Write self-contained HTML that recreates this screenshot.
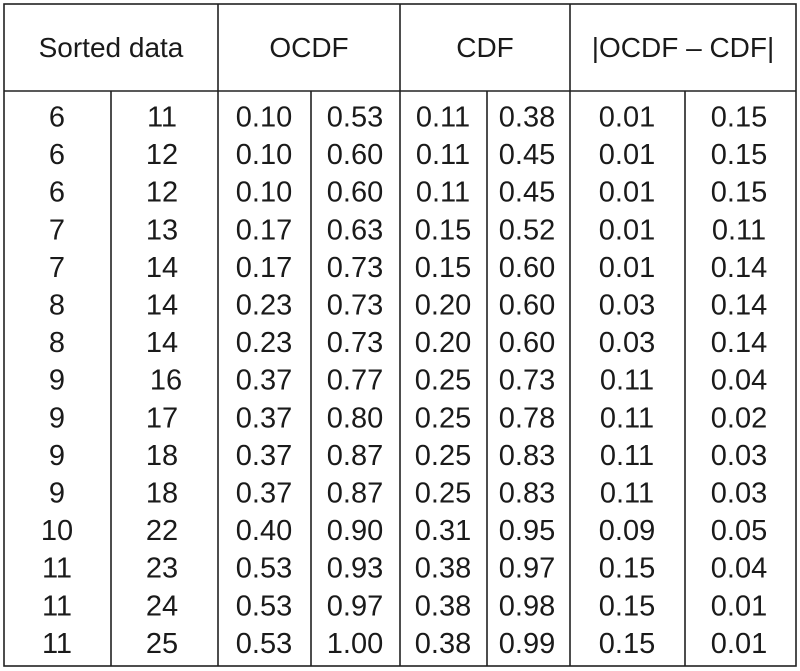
<!DOCTYPE html>
<html><head><meta charset="utf-8"><style>
html,body{margin:0;padding:0;background:#fff;}
svg{display:block;}
text{font-family:"Liberation Sans",sans-serif;fill:#1a1a1a;text-anchor:middle;}
</style></head><body>
<svg width="800" height="671" viewBox="0 0 800 671" xmlns="http://www.w3.org/2000/svg">
<g stroke="#222" stroke-width="1.6" fill="none">
<rect x="4" y="4" width="792" height="662"/>
<line x1="4" y1="91" x2="796" y2="91"/>
<line x1="218" y1="4" x2="218" y2="666"/>
<line x1="400" y1="4" x2="400" y2="666"/>
<line x1="570" y1="4" x2="570" y2="666"/>
<line x1="111" y1="91" x2="111" y2="666"/>
<line x1="311" y1="91" x2="311" y2="666"/>
<line x1="487" y1="91" x2="487" y2="666"/>
<line x1="685" y1="91" x2="685" y2="666"/>
</g>
<g font-size="28">
<text x="111" y="57">Sorted data</text>
<text x="309" y="57">OCDF</text>
<text x="485" y="57">CDF</text>
<text x="683" y="57">|OCDF – CDF|</text>
</g>
<g font-size="29">
<text y="126.5"><tspan x="57">6</tspan><tspan x="162">11</tspan><tspan x="264">0.10</tspan><tspan x="355">0.53</tspan><tspan x="443">0.11</tspan><tspan x="527">0.38</tspan><tspan x="627">0.01</tspan><tspan x="739">0.15</tspan></text>
<text y="164.1"><tspan x="57">6</tspan><tspan x="162">12</tspan><tspan x="264">0.10</tspan><tspan x="355">0.60</tspan><tspan x="443">0.11</tspan><tspan x="527">0.45</tspan><tspan x="627">0.01</tspan><tspan x="739">0.15</tspan></text>
<text y="201.7"><tspan x="57">6</tspan><tspan x="162">12</tspan><tspan x="264">0.10</tspan><tspan x="355">0.60</tspan><tspan x="443">0.11</tspan><tspan x="527">0.45</tspan><tspan x="627">0.01</tspan><tspan x="739">0.15</tspan></text>
<text y="239.3"><tspan x="57">7</tspan><tspan x="162">13</tspan><tspan x="264">0.17</tspan><tspan x="355">0.63</tspan><tspan x="443">0.15</tspan><tspan x="527">0.52</tspan><tspan x="627">0.01</tspan><tspan x="739">0.11</tspan></text>
<text y="276.9"><tspan x="57">7</tspan><tspan x="162">14</tspan><tspan x="264">0.17</tspan><tspan x="355">0.73</tspan><tspan x="443">0.15</tspan><tspan x="527">0.60</tspan><tspan x="627">0.01</tspan><tspan x="739">0.14</tspan></text>
<text y="314.5"><tspan x="57">8</tspan><tspan x="162">14</tspan><tspan x="264">0.23</tspan><tspan x="355">0.73</tspan><tspan x="443">0.20</tspan><tspan x="527">0.60</tspan><tspan x="627">0.03</tspan><tspan x="739">0.14</tspan></text>
<text y="352.1"><tspan x="57">8</tspan><tspan x="162">14</tspan><tspan x="264">0.23</tspan><tspan x="355">0.73</tspan><tspan x="443">0.20</tspan><tspan x="527">0.60</tspan><tspan x="627">0.03</tspan><tspan x="739">0.14</tspan></text>
<text y="389.7"><tspan x="57">9</tspan><tspan x="166">16</tspan><tspan x="264">0.37</tspan><tspan x="355">0.77</tspan><tspan x="443">0.25</tspan><tspan x="527">0.73</tspan><tspan x="627">0.11</tspan><tspan x="739">0.04</tspan></text>
<text y="427.3"><tspan x="57">9</tspan><tspan x="162">17</tspan><tspan x="264">0.37</tspan><tspan x="355">0.80</tspan><tspan x="443">0.25</tspan><tspan x="527">0.78</tspan><tspan x="627">0.11</tspan><tspan x="739">0.02</tspan></text>
<text y="464.9"><tspan x="57">9</tspan><tspan x="162">18</tspan><tspan x="264">0.37</tspan><tspan x="355">0.87</tspan><tspan x="443">0.25</tspan><tspan x="527">0.83</tspan><tspan x="627">0.11</tspan><tspan x="739">0.03</tspan></text>
<text y="502.5"><tspan x="57">9</tspan><tspan x="162">18</tspan><tspan x="264">0.37</tspan><tspan x="355">0.87</tspan><tspan x="443">0.25</tspan><tspan x="527">0.83</tspan><tspan x="627">0.11</tspan><tspan x="739">0.03</tspan></text>
<text y="540.1"><tspan x="57">10</tspan><tspan x="162">22</tspan><tspan x="264">0.40</tspan><tspan x="355">0.90</tspan><tspan x="443">0.31</tspan><tspan x="527">0.95</tspan><tspan x="627">0.09</tspan><tspan x="739">0.05</tspan></text>
<text y="577.7"><tspan x="57">11</tspan><tspan x="162">23</tspan><tspan x="264">0.53</tspan><tspan x="355">0.93</tspan><tspan x="443">0.38</tspan><tspan x="527">0.97</tspan><tspan x="627">0.15</tspan><tspan x="739">0.04</tspan></text>
<text y="615.3"><tspan x="57">11</tspan><tspan x="162">24</tspan><tspan x="264">0.53</tspan><tspan x="355">0.97</tspan><tspan x="443">0.38</tspan><tspan x="527">0.98</tspan><tspan x="627">0.15</tspan><tspan x="739">0.01</tspan></text>
<text y="652.9"><tspan x="57">11</tspan><tspan x="162">25</tspan><tspan x="264">0.53</tspan><tspan x="355">1.00</tspan><tspan x="443">0.38</tspan><tspan x="527">0.99</tspan><tspan x="627">0.15</tspan><tspan x="739">0.01</tspan></text>
</g>
</svg>
</body></html>
